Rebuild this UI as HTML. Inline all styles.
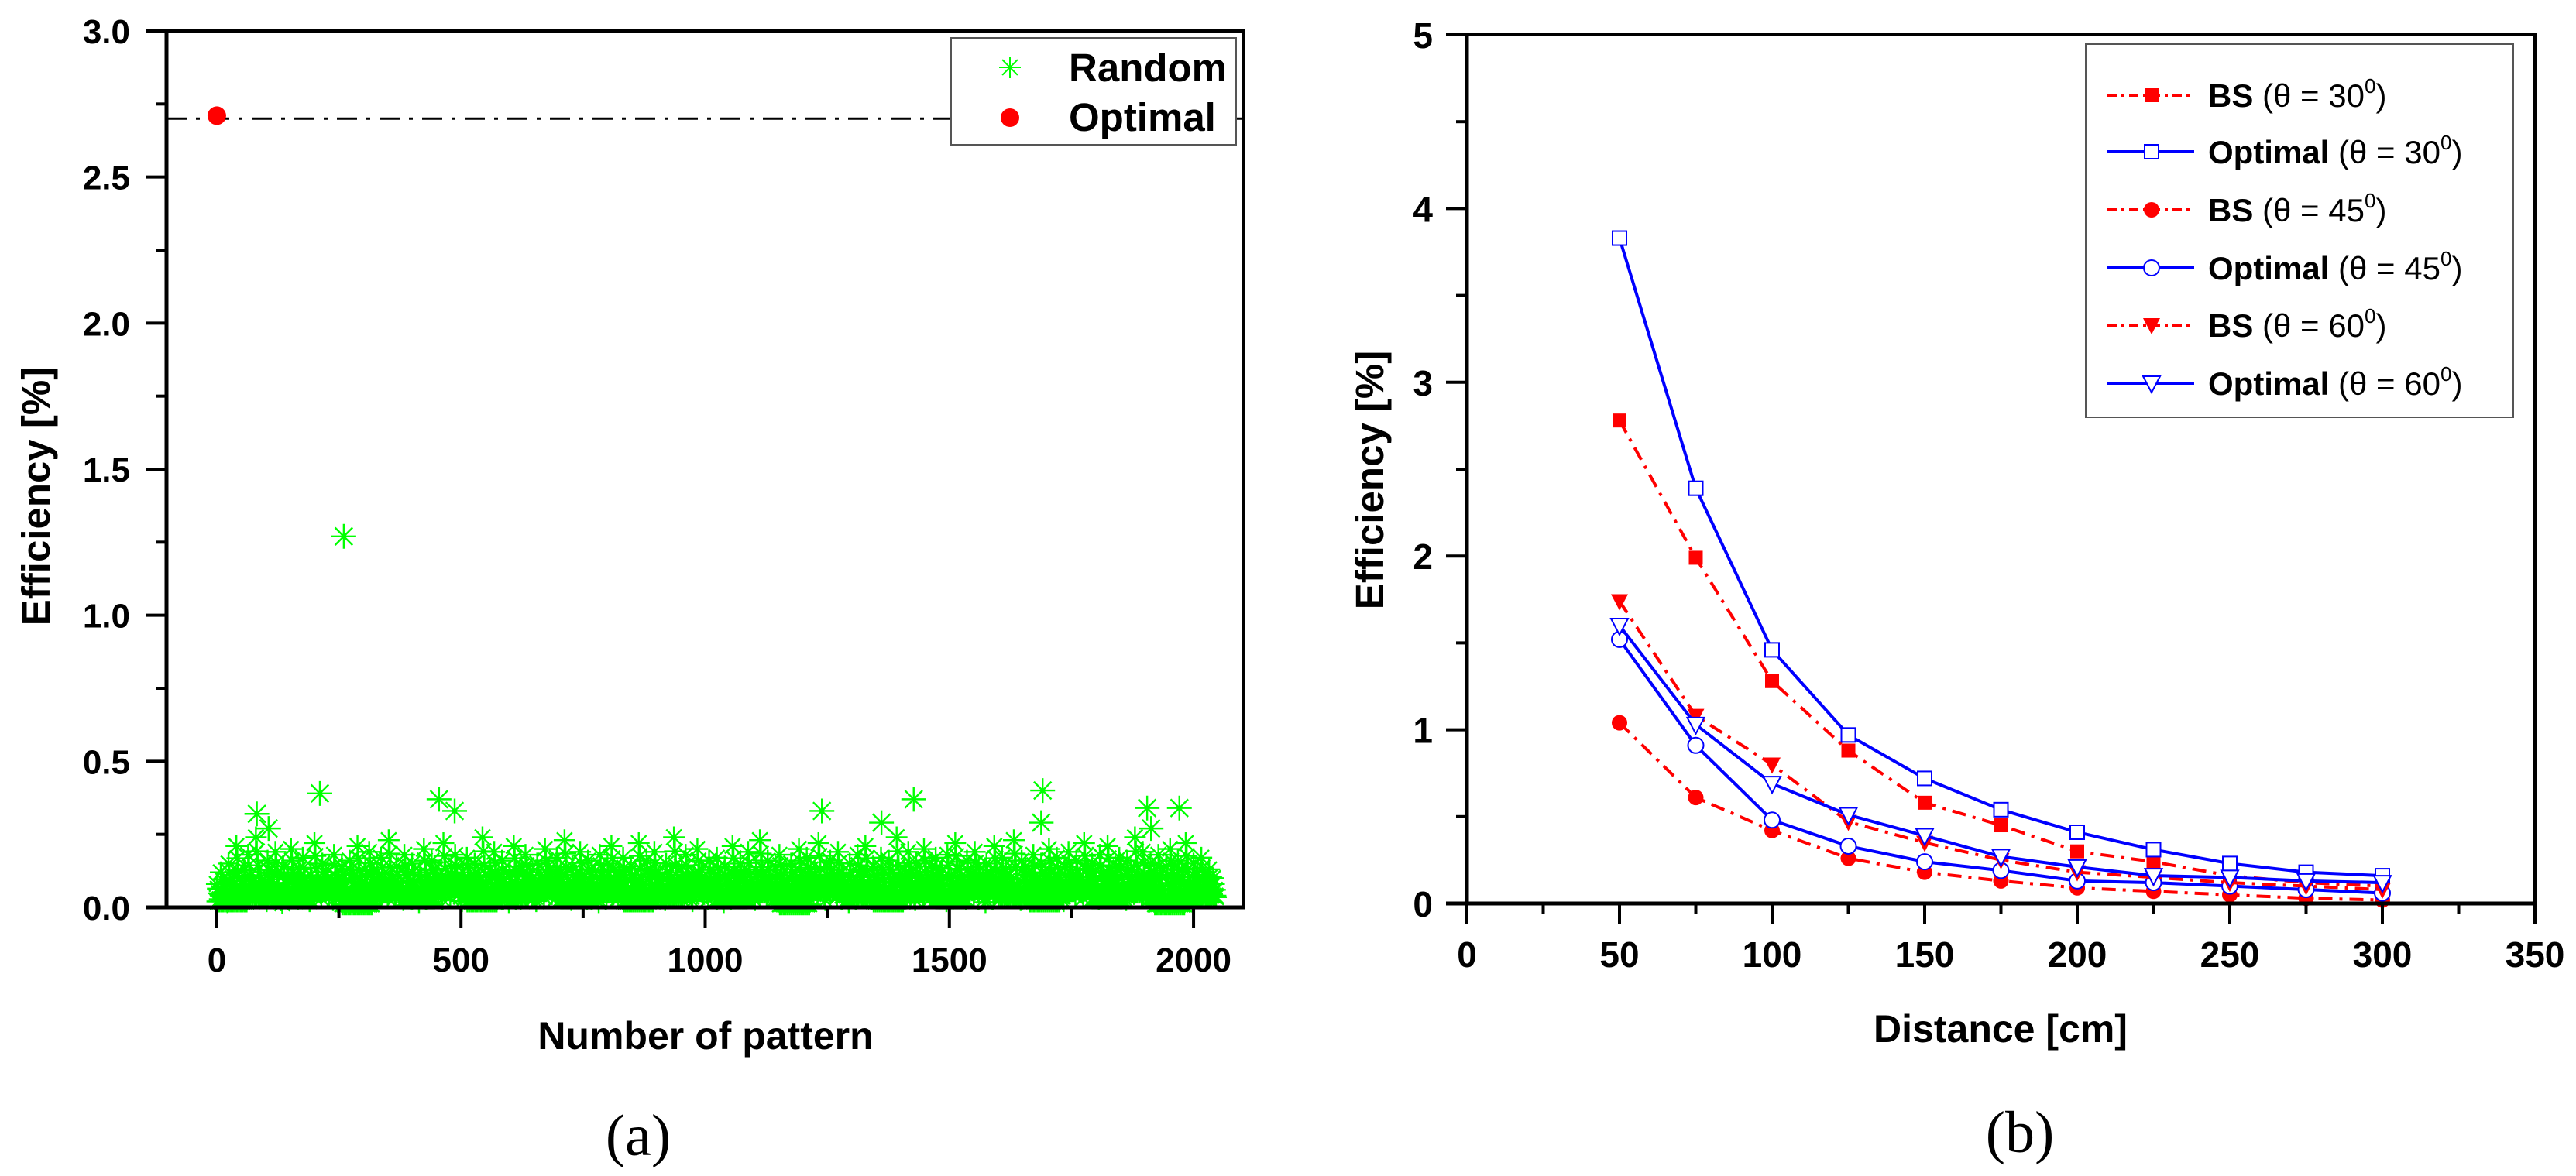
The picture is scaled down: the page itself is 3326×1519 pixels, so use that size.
<!DOCTYPE html>
<html><head><meta charset="utf-8"><style>
html,body{margin:0;padding:0;background:#fff;}
svg{display:block;}
text{font-family:"Liberation Sans",Arial,sans-serif;}
</style></head>
<body>
<svg id="fig" width="3326" height="1519" viewBox="0 0 3326 1519" xmlns="http://www.w3.org/2000/svg">
<g id="pa"></g>
<g id="pb"></g>
</svg>
<script>
// ---------- Chart (a) data ----------
const aRandomStep = 8;
const aRandomVals = [
0.08,0.12,0.05,0.15,0.10,0.21,0.07,0.13,0.18,0.09,0.24,0.11,0.06,0.16,0.12,0.19,
0.04,0.14,0.10,0.20,0.08,0.13,0.17,0.06,0.11,0.22,0.09,0.15,0.12,0.07,0.18,0.10,
0.14,0.05,0.16,0.11,0.21,0.08,0.13,0.19,0.06,0.12,0.17,0.09,0.23,0.10,0.14,0.07,
0.18,0.11,0.15,0.05,0.12,0.20,0.09,0.16,0.13,0.08,0.22,0.10,0.14,0.18,0.06,0.12,
0.17,0.09,0.15,0.11,0.24,0.07,0.13,0.19,0.10,0.16,0.05,0.12,0.21,0.08,0.14,0.18,
0.11,0.06,0.15,0.10,0.20,0.13,0.09,0.17,0.12,0.23,0.07,0.14,0.11,0.19,0.08,0.16,
0.13,0.05,0.18,0.10,0.15,0.21,0.09,0.12,0.17,0.06,0.14,0.11,0.22,0.08,0.16,0.13,
0.19,0.10,0.07,0.15,0.12,0.24,0.09,0.14,0.18,0.06,0.11,0.20,0.13,0.08,0.16,0.12,
0.17,0.05,0.14,0.10,0.21,0.09,0.15,0.12,0.19,0.07,0.13,0.23,0.11,0.16,0.08,0.14,
0.18,0.10,0.06,0.15,0.12,0.20,0.09,0.17,0.13,0.11,0.22,0.07,0.14,0.16,0.10,0.19,
0.12,0.05,0.15,0.09,0.18,0.13,0.21,0.08,0.14,0.11,0.17,0.06,0.16,0.12,0.24,0.10,
0.13,0.19,0.07,0.15,0.11,0.20,0.09,0.14,0.17,0.12,0.06,0.18,0.10,0.22,0.13,0.08,
0.16,0.11,0.19,0.14,0.05,0.15,0.12,0.21,0.09,0.17,0.13,0.10,0.23,0.07,0.16,0.14,
0.11,0.18,0.08,0.15,0.12,0.20,0.10,0.17,0.06,0.14,0.19,0.11,0.16,0.09,0.22,0.13,
0.15,0.08,0.18,0.12,0.21,0.10,0.14,0.17,0.07,0.16,0.13,0.24,0.11,0.19,0.09,0.15,
0.12,0.18,0.06,0.14,0.20,0.10,0.16,0.13,0.22,0.08,0.15,0.11,0.17,0.09,0.13,0.10
];
const aLowVals = [
0.02,0.04,0.03,0.06,0.01,0.05,0.03,0.07,0.02,0.04,0.06,0.03,0.05,0.02,0.04,0.07,
0.03,0.05,0.01,0.06,0.04,0.02,0.05,0.03,0.07,0.04,0.02,0.06,0.03,0.05,0.01,0.04
];
const aOutlierX = [82,106,211,260,455,487,1239,1361,1427,1688,1691,1905,1913,1971];
const aOutlierY = [0.32,0.27,0.39,1.27,0.37,0.33,0.33,0.29,0.37,0.29,0.40,0.34,0.27,0.34];
const aOptimalX = [0];
const aOptimalY = [2.71];
const aRefLine = 2.70;
const aYTicks = ["0.0","0.5","1.0","1.5","2.0","2.5","3.0"];
const aXTicks = ["0","500","1000","1500","2000"];

// ---------- Chart (b) data ----------
const bDist = [50,75,100,125,150,175,200,225,250,275,300];
const bBS30  = [2.78,1.99,1.28,0.88,0.58,0.45,0.30,0.24,0.16,0.12,0.10];
const bOpt30 = [3.83,2.39,1.46,0.97,0.72,0.54,0.41,0.31,0.23,0.18,0.16];
const bBS45  = [1.04,0.61,0.42,0.26,0.18,0.13,0.09,0.07,0.05,0.03,0.02];
const bOpt45 = [1.52,0.91,0.48,0.33,0.24,0.19,0.13,0.12,0.10,0.08,0.06];
const bBS60  = [1.74,1.08,0.80,0.47,0.35,0.25,0.18,0.15,0.12,0.10,0.08];
const bOpt60 = [1.60,1.03,0.69,0.51,0.39,0.27,0.21,0.16,0.15,0.13,0.12];
const bYTicks = ["0","1","2","3","4","5"];
const bXTicks = ["0","50","100","150","200","250","300","350"];
const bLegendLabels = ["BS","Optimal","BS","Optimal","BS","Optimal"];
const bLegendAngles = ["30","30","45","45","60","60"];

const NS = "http://www.w3.org/2000/svg";
function mk(parent, tag, attrs, txt){
  const e = document.createElementNS(NS, tag);
  for (const k in attrs) e.setAttribute(k, attrs[k]);
  if (txt !== undefined) e.textContent = txt;
  parent.appendChild(e);
  return e;
}

// ===== Chart (a) =====
(function(){
  const g = document.getElementById('pa');
  const L=215, R=1606, T=40, B=1172;
  const xMin=-103, xMax=2103, yMin=0, yMax=3;
  const xs = v => L + (v-xMin)/(xMax-xMin)*(R-L);
  const ys = v => B - (v-yMin)/(yMax-yMin)*(B-T);

  const sg = mk(g,'g',{stroke:'#00ff00','stroke-width':2.4,fill:'none'});
  
  
  function star(parent, x, y, r){
    const d = r*0.707;
    const p = mk(parent,'path',{d:`M${x-r} ${y}H${x+r}M${x} ${y-r}V${y+r}M${x-d} ${y-d}L${x+d} ${y+d}M${x-d} ${y+d}L${x+d} ${y-d}`});
    
    
    return p;
  }
  aRandomVals.forEach((v,i)=>{ star(sg, xs(i*aRandomStep), ys(v), 14); });
  aRandomVals.forEach((v,i)=>{ star(sg, xs(i*aRandomStep+4), ys(v*0.6), 14); });
  aRandomVals.forEach((v,i)=>{ star(sg, xs(i*aRandomStep+2), ys(v*0.8), 14); });
  aRandomVals.forEach((v,i)=>{ star(sg, xs(i*aRandomStep+6), ys(v*0.35), 14); });
  aLowVals.forEach((v,i)=>{ for(let k=0;k<16;k++){ star(sg, xs((i*8)*8+k*4+1), ys(v), 14); } });
  aOutlierX.forEach((x,i)=>{ star(sg, xs(x), ys(aOutlierY[i]), 16); });

  const rl = mk(g,'line',{x1:L,x2:R,y1:ys(aRefLine),y2:ys(aRefLine),stroke:'#000','stroke-width':3,'stroke-dasharray':'26 12 5 12'});
  
  

  aOptimalX.forEach((x,i)=>{
    const c = mk(g,'circle',{cx:xs(x),cy:ys(aOptimalY[i]),r:12,fill:'#ff0000'});
    
    
  });

  const fr = mk(g,'path',{d:`M${L} ${T}H${R}V${B}`,stroke:'#000','stroke-width':4,fill:'none'});
  
  
  const ya = mk(g,'line',{x1:L,x2:L,y1:T-2,y2:B+2,stroke:'#000','stroke-width':5});
  
  
  const xa = mk(g,'line',{x1:L-27,x2:R+2,y1:B,y2:B,stroke:'#000','stroke-width':5});
  
  

  aYTicks.forEach((t,i)=>{
    const v = i*0.5, y = ys(v);
    mk(g,'line',{x1:L-27,x2:L,y1:y,y2:y,stroke:'#000','stroke-width':4});
    if(i<aYTicks.length-1){ const ym = ys(v+0.25); mk(g,'line',{x1:L-14,x2:L,y1:ym,y2:ym,stroke:'#000','stroke-width':4}); }
    const tx = mk(g,'text',{x:168,y:y+16,'text-anchor':'end','font-size':44,'font-weight':'bold'},t);
    
    
  });
  aXTicks.forEach((t,i)=>{
    const v = i*500, x = xs(v);
    mk(g,'line',{x1:x,x2:x,y1:B,y2:B+27,stroke:'#000','stroke-width':4});
    if(i<aXTicks.length-1){ const xm = xs(v+250); mk(g,'line',{x1:xm,x2:xm,y1:B,y2:B+14,stroke:'#000','stroke-width':4}); }
    const tx = mk(g,'text',{x:x,y:1255,'text-anchor':'middle','font-size':44,'font-weight':'bold'},t);
    
    
  });

  const xt = mk(g,'text',{x:911,y:1355,'text-anchor':'middle','font-size':50,'font-weight':'bold'},'Number of pattern');
  
  
  const yt = mk(g,'text',{x:0,y:0,'text-anchor':'middle','font-size':51,'font-weight':'bold',transform:'translate(64,641) rotate(-90)'},'Efficiency [%]');
  
  
  const cap = mk(g,'text',{x:824,y:1492,'text-anchor':'middle','font-size':76,style:'font-family:"Liberation Serif",serif'},'(a)');
  
  

  const lg = mk(g,'g',{});
  
  
  mk(lg,'rect',{x:1228,y:49,width:368,height:138,fill:'#fff',stroke:'#555','stroke-width':2});
  const ls = mk(lg,'g',{stroke:'#00ff00','stroke-width':2});
  star(ls,1304,87,14);
  const t1 = mk(lg,'text',{x:1380,y:105,'font-size':51,'font-weight':'bold'},'Random');
  
  
  mk(lg,'circle',{cx:1304,cy:152,r:12,fill:'#ff0000'});
  const t2 = mk(lg,'text',{x:1380,y:169,'font-size':51,'font-weight':'bold'},'Optimal');
  
  
})();

// ===== Chart (b) =====
(function(){
  const g = document.getElementById('pb');
  const L=1894, R=3273, T=45, B=1167;
  const xMin=0, xMax=350, yMin=0, yMax=5;
  const xs = v => L + (v-xMin)/(xMax-xMin)*(R-L);
  const ys = v => B - (v-yMin)/(yMax-yMin)*(B-T);
  const RED='#ff0000', BLUE='#0000ff', DD='18 9 4 9';

  function marker(parent, kind, x, y, color){
    let e;
    const s=9;
    if(kind==='sqF') e=mk(parent,'rect',{x:x-s,y:y-s,width:2*s,height:2*s,fill:color});
    else if(kind==='sqO') e=mk(parent,'rect',{x:x-s,y:y-s,width:2*s,height:2*s,fill:'#fff',stroke:color,'stroke-width':2});
    else if(kind==='ciF') e=mk(parent,'circle',{cx:x,cy:y,r:s+1,fill:color});
    else if(kind==='ciO') e=mk(parent,'circle',{cx:x,cy:y,r:s+1,fill:'#fff',stroke:color,'stroke-width':2});
    else if(kind==='trF') e=mk(parent,'path',{d:`M${x-11} ${y-9}H${x+11}L${x} ${y+12}Z`,fill:color});
    else e=mk(parent,'path',{d:`M${x-11} ${y-9}H${x+11}L${x} ${y+12}Z`,fill:'#fff',stroke:color,'stroke-width':2});
    
    
    return e;
  }
  const series = [
    {name:'bs-30', vals:bBS30, color:RED, dash:DD, m:'sqF'},
    {name:'optimal-30', vals:bOpt30, color:BLUE, dash:null, m:'sqO'},
    {name:'bs-45', vals:bBS45, color:RED, dash:DD, m:'ciF'},
    {name:'optimal-45', vals:bOpt45, color:BLUE, dash:null, m:'ciO'},
    {name:'bs-60', vals:bBS60, color:RED, dash:DD, m:'trF'},
    {name:'optimal-60', vals:bOpt60, color:BLUE, dash:null, m:'trO'}
  ];
  series.forEach(s=>{
    const sg = mk(g,'g',{});
    
    
    const pts = s.vals.map((v,i)=>xs(bDist[i])+','+ys(v)).join(' ');
    const attrs = {points:pts,fill:'none',stroke:s.color,'stroke-width':4};
    if(s.dash) attrs['stroke-dasharray']=s.dash;
    const pl = mk(sg,'polyline',attrs);
    
    
    s.vals.forEach((v,i)=>marker(sg,s.m,xs(bDist[i]),ys(v),s.color));
  });

  const fr = mk(g,'path',{d:`M${L} ${T}H${R}V${B}`,stroke:'#000','stroke-width':4,fill:'none'});
  
  
  const ya = mk(g,'line',{x1:L,x2:L,y1:T-2,y2:B+2,stroke:'#000','stroke-width':5});
  
  
  const xa = mk(g,'line',{x1:L-27,x2:R+2,y1:B,y2:B,stroke:'#000','stroke-width':5});
  
  

  bYTicks.forEach((t,i)=>{
    const y = ys(i);
    mk(g,'line',{x1:L-27,x2:L,y1:y,y2:y,stroke:'#000','stroke-width':4});
    if(i<bYTicks.length-1){ const ym=ys(i+0.5); mk(g,'line',{x1:L-14,x2:L,y1:ym,y2:ym,stroke:'#000','stroke-width':4}); }
    const tx = mk(g,'text',{x:1850,y:y+17,'text-anchor':'end','font-size':46,'font-weight':'bold'},t);
    
    
  });
  bXTicks.forEach((t,i)=>{
    const v=i*50, x=xs(v);
    mk(g,'line',{x1:x,x2:x,y1:B,y2:B+27,stroke:'#000','stroke-width':4});
    if(i<bXTicks.length-1){ const xm=xs(v+25); mk(g,'line',{x1:xm,x2:xm,y1:B,y2:B+14,stroke:'#000','stroke-width':4}); }
    const tx = mk(g,'text',{x:x,y:1249,'text-anchor':'middle','font-size':46,'font-weight':'bold'},t);
    
    
  });

  const xt = mk(g,'text',{x:2583,y:1346,'text-anchor':'middle','font-size':50,'font-weight':'bold'},'Distance [cm]');
  
  
  const yt = mk(g,'text',{x:0,y:0,'text-anchor':'middle','font-size':51,'font-weight':'bold',transform:'translate(1786,620) rotate(-90)'},'Efficiency [%]');
  
  
  const cap = mk(g,'text',{x:2608,y:1488,'text-anchor':'middle','font-size':76,style:'font-family:"Liberation Serif",serif'},'(b)');
  
  

  const lg = mk(g,'g',{});
  
  
  mk(lg,'rect',{x:2693,y:57,width:552,height:482,fill:'#fff',stroke:'#555','stroke-width':2});
  const rowY = [123,196,271,346,420,495];
  series.forEach((s,i)=>{
    const y = rowY[i];
    const la = {x1:2721,x2:2833,y1:y,y2:y,stroke:s.color,'stroke-width':4};
    if(s.dash) la['stroke-dasharray']='12 6 4 6';
    mk(lg,'line',la);
    marker(lg,s.m,2778,y,s.color);
    const tx = mk(lg,'text',{x:2851,y:y+15,'font-size':42});
    
    
    mk(tx,'tspan',{'font-weight':'bold'},bLegendLabels[i]);
    mk(tx,'tspan',{},' (\u03b8 = '+bLegendAngles[i]);
    mk(tx,'tspan',{'font-size':26,dy:-18},'0');
    mk(tx,'tspan',{dy:18},')');
  });
})();
</script>
</body></html>
